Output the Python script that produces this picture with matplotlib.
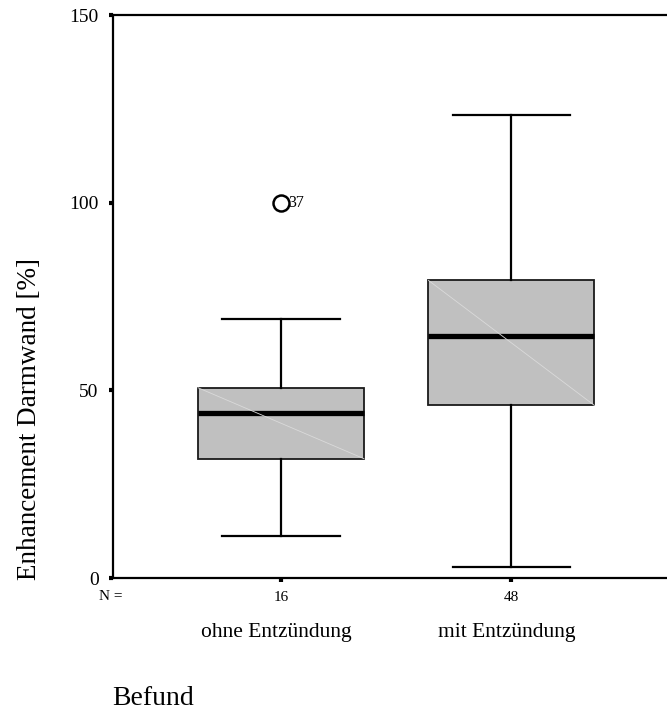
import matplotlib.pyplot as plt
from matplotlib.transforms import blended_transform_factory, offset_copy

plt.rcParams['font.family'] = ['Liberation Serif', 'DejaVu Serif']

groups = ['ohne Entzündung', 'mit Entzündung']
n_cases = [16, 48]
q1 = [31.8, 46.0]
median = [44.1, 64.6]
q3 = [50.7, 79.3]
whisker_low = [11.3, 2.9]
whisker_high = [68.9, 123.5]
outliers = [[100.0], []]
outlier_ids = [['37'], []]

positions = [1, 2]
box_width = 0.72

stats = []
for i in range(len(groups)):
    stats.append(dict(med=median[i], q1=q1[i], q3=q3[i],
                      whislo=whisker_low[i], whishi=whisker_high[i],
                      fliers=outliers[i], label=str(n_cases[i])))

fig = plt.figure(figsize=(6.67, 7.11), dpi=100)
ax = fig.add_axes([0.1687, 0.187, 0.8313, 0.7918])

ax.bxp(stats, positions=positions, widths=box_width, capwidths=0.51,
       patch_artist=True, showfliers=True,
       boxprops=dict(facecolor='#c0c0c0', edgecolor='#1a1a1a', linewidth=1.3),
       medianprops=dict(color='black', linewidth=3.8, solid_capstyle='butt'),
       whiskerprops=dict(color='black', linewidth=1.6),
       capprops=dict(color='black', linewidth=1.6),
       flierprops=dict(marker='o', markersize=11.5, markerfacecolor='none',
                       markeredgecolor='black', markeredgewidth=1.8))

# faint diagonal across each box
for i, p in enumerate(positions):
    ax.plot([p - box_width / 2, p + box_width / 2], [q3[i], q1[i]],
            color='#dadada', lw=0.6, zorder=2.5)

for i, p in enumerate(positions):
    for val, lab in zip(outliers[i], outlier_ids[i]):
        ax.annotate(lab, (p, val), xytext=(5.5, -0.5), textcoords='offset points',
                    ha='left', va='center', fontsize=11.5)

ax.set_xlim(0.269, 2.675)
ax.set_ylim(0, 150)
ax.set_yticks([0, 50, 100, 150])
ax.set_xticks(positions)
ax.set_xticklabels([str(n) for n in n_cases], fontsize=11)
ax.tick_params(axis='y', direction='out', length=3, width=3, pad=7, labelsize=14)
ax.tick_params(axis='x', direction='out', length=3, width=3, pad=6)
ax.spines['right'].set_visible(False)
for s in ['left', 'top', 'bottom']:
    ax.spines[s].set_linewidth(1.6)

fig.text(111 / 667, 1 - 597 / 711, 'N =', fontsize=11, ha='center', va='center')

trans = offset_copy(blended_transform_factory(ax.transData, fig.transFigure),
                    fig=fig, x=-4.5, y=0, units='dots')
for p, g in zip(positions, groups):
    ax.text(p, 1 - 633 / 711, g, transform=trans, fontsize=15.5,
            ha='center', va='center')

fig.text(29.5 / 667, 1 - 419 / 711, 'Enhancement Darmwand [%]', rotation=90,
         fontsize=19.5, ha='center', va='center')
fig.text(112 / 667, 1 - 705 / 711, 'Befund', fontsize=20, ha='left',
         va='baseline')

fig.savefig('out.png', dpi=100)
